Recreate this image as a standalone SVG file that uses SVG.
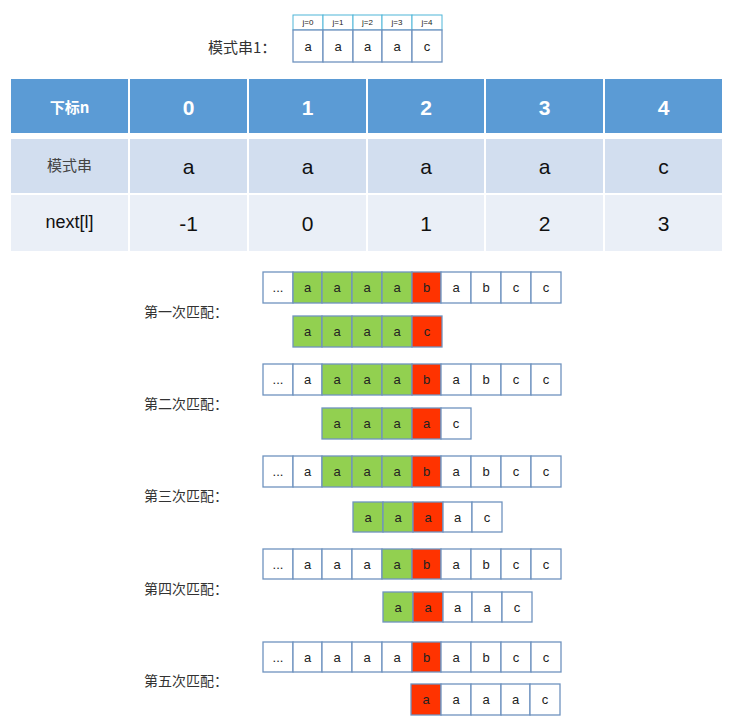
<svg xmlns="http://www.w3.org/2000/svg" width="732" height="725" viewBox="0 0 732 725">
<style>
text{font-family:"Liberation Sans","Noto Sans CJK SC",sans-serif;text-anchor:middle;dominant-baseline:central;fill:#222}
.cn{font-family:"Noto Sans CJK SC","Liberation Sans",sans-serif;fill:#333;font-size:14px;text-anchor:start}
.c{stroke:#6f93bf;stroke-width:1.3;fill:#fff}
.g{fill:#92d050}
.r{fill:#ff3300}
.t{font-size:13px}
.jh{stroke:#4fb5d8;stroke-width:1;fill:#fff}
.hd{fill:#5b9bd5}
.r2{fill:#d2deef}
.r3{fill:#eaeff7}
.ht{fill:#fff;font-weight:bold;font-size:21px}
.bt{font-size:21px;fill:#111}
</style>
<rect width="732" height="725" fill="#fff"/>

<g id="pattern1">
<text class="cn" x="208" y="46" style="font-size:15px">模式串1：</text>
<g>
<rect class="jh" x="293" y="15" width="30" height="15"/><rect class="jh" x="323" y="15" width="30" height="15"/><rect class="jh" x="353" y="15" width="29" height="15"/><rect class="jh" x="382" y="15" width="30" height="15"/><rect class="jh" x="412" y="15" width="30" height="15"/>
<text x="308" y="22.5" style="font-size:8px">j=0</text><text x="338" y="22.5" style="font-size:8px">j=1</text><text x="367.5" y="22.5" style="font-size:8px">j=2</text><text x="397" y="22.5" style="font-size:8px">j=3</text><text x="427" y="22.5" style="font-size:8px">j=4</text>
</g>
<g>
<rect class="c" x="293" y="30" width="30" height="32"/><rect class="c" x="323" y="30" width="30" height="32"/><rect class="c" x="353" y="30" width="29" height="32"/><rect class="c" x="382" y="30" width="30" height="32"/><rect class="c" x="412" y="30" width="30" height="32"/>
<text class="t" x="308" y="46">a</text><text class="t" x="338" y="46">a</text><text class="t" x="367.5" y="46">a</text><text class="t" x="397" y="46">a</text><text class="t" x="427" y="46">c</text>
</g>
</g>

<g id="table">
<rect class="hd" x="11" y="79" width="117" height="54"/><rect class="hd" x="130" y="79" width="117" height="54"/><rect class="hd" x="249" y="79" width="117" height="54"/><rect class="hd" x="368" y="79" width="116" height="54"/><rect class="hd" x="486" y="79" width="117" height="54"/><rect class="hd" x="605" y="79" width="117" height="54"/>
<text class="ht" x="69.5" y="106" style="font-size:15px;font-family:'Noto Sans CJK SC',sans-serif">下标n</text>
<text class="ht" x="188.5" y="107">0</text><text class="ht" x="307.5" y="107">1</text><text class="ht" x="426" y="107">2</text><text class="ht" x="544.5" y="107">3</text><text class="ht" x="663.5" y="107">4</text>

<rect class="r2" x="11" y="139" width="117" height="54"/><rect class="r2" x="130" y="139" width="117" height="54"/><rect class="r2" x="249" y="139" width="117" height="54"/><rect class="r2" x="368" y="139" width="116" height="54"/><rect class="r2" x="486" y="139" width="117" height="54"/><rect class="r2" x="605" y="139" width="117" height="54"/>
<text x="69.5" y="164" style="font-size:15px;fill:#444;font-family:'Noto Sans CJK SC',sans-serif">模式串</text>
<text class="bt" x="188.5" y="166">a</text><text class="bt" x="307.5" y="166">a</text><text class="bt" x="426" y="166">a</text><text class="bt" x="544.5" y="166">a</text><text class="bt" x="663.5" y="166">c</text>

<rect class="r3" x="11" y="195" width="117" height="56"/><rect class="r3" x="130" y="195" width="117" height="56"/><rect class="r3" x="249" y="195" width="117" height="56"/><rect class="r3" x="368" y="195" width="116" height="56"/><rect class="r3" x="486" y="195" width="117" height="56"/><rect class="r3" x="605" y="195" width="117" height="56"/>
<text x="69.5" y="222" style="font-size:18px;fill:#111">next[l]</text>
<text class="bt" x="188.5" y="223">-1</text><text class="bt" x="307.5" y="223">0</text><text class="bt" x="426" y="223">1</text><text class="bt" x="544.5" y="223">2</text><text class="bt" x="663.5" y="223">3</text>
</g>

<g id="match1">
<text class="cn" x="144" y="311">第一次匹配：</text>
<g>
<rect class="c" x="263" y="272" width="30" height="31"/><rect class="c g" x="293" y="272" width="29" height="31"/><rect class="c g" x="322" y="272" width="30" height="31"/><rect class="c g" x="352" y="272" width="30" height="31"/><rect class="c g" x="382" y="272" width="30" height="31"/><rect class="c r" x="412" y="272" width="29" height="31"/><rect class="c" x="441" y="272" width="30" height="31"/><rect class="c" x="471" y="272" width="30" height="31"/><rect class="c" x="501" y="272" width="30" height="31"/><rect class="c" x="531" y="272" width="30" height="31"/>
<text class="t" x="278" y="287">...</text><text class="t" x="307.5" y="287">a</text><text class="t" x="337" y="287">a</text><text class="t" x="367" y="287">a</text><text class="t" x="397" y="287">a</text><text class="t" x="426.5" y="287">b</text><text class="t" x="456" y="287">a</text><text class="t" x="486" y="287">b</text><text class="t" x="516" y="287">c</text><text class="t" x="546" y="287">c</text>
</g>
<g>
<rect class="c g" x="293" y="316" width="29" height="31"/><rect class="c g" x="322" y="316" width="30" height="31"/><rect class="c g" x="352" y="316" width="30" height="31"/><rect class="c g" x="382" y="316" width="30" height="31"/><rect class="c r" x="412" y="316" width="30" height="31"/>
<text class="t" x="307.5" y="331">a</text><text class="t" x="337" y="331">a</text><text class="t" x="367" y="331">a</text><text class="t" x="397" y="331">a</text><text class="t" x="427" y="331">c</text>
</g>
</g>

<g id="match2">
<text class="cn" x="144" y="403">第二次匹配：</text>
<g>
<rect class="c" x="263" y="364" width="30" height="31"/><rect class="c" x="293" y="364" width="29" height="31"/><rect class="c g" x="322" y="364" width="30" height="31"/><rect class="c g" x="352" y="364" width="30" height="31"/><rect class="c g" x="382" y="364" width="30" height="31"/><rect class="c r" x="412" y="364" width="29" height="31"/><rect class="c" x="441" y="364" width="30" height="31"/><rect class="c" x="471" y="364" width="30" height="31"/><rect class="c" x="501" y="364" width="30" height="31"/><rect class="c" x="531" y="364" width="30" height="31"/>
<text class="t" x="278" y="379">...</text><text class="t" x="307.5" y="379">a</text><text class="t" x="337" y="379">a</text><text class="t" x="367" y="379">a</text><text class="t" x="397" y="379">a</text><text class="t" x="426.5" y="379">b</text><text class="t" x="456" y="379">a</text><text class="t" x="486" y="379">b</text><text class="t" x="516" y="379">c</text><text class="t" x="546" y="379">c</text>
</g>
<g>
<rect class="c g" x="322" y="408" width="30" height="31"/><rect class="c g" x="352" y="408" width="30" height="31"/><rect class="c g" x="382" y="408" width="30" height="31"/><rect class="c r" x="412" y="408" width="29" height="31"/><rect class="c" x="441" y="408" width="30" height="31"/>
<text class="t" x="337" y="423">a</text><text class="t" x="367" y="423">a</text><text class="t" x="397" y="423">a</text><text class="t" x="426.5" y="423">a</text><text class="t" x="456" y="423">c</text>
</g>
</g>

<g id="match3">
<text class="cn" x="144" y="495">第三次匹配：</text>
<g>
<rect class="c" x="263" y="456" width="30" height="31"/><rect class="c" x="293" y="456" width="29" height="31"/><rect class="c g" x="322" y="456" width="30" height="31"/><rect class="c g" x="352" y="456" width="30" height="31"/><rect class="c g" x="382" y="456" width="30" height="31"/><rect class="c r" x="412" y="456" width="29" height="31"/><rect class="c" x="441" y="456" width="30" height="31"/><rect class="c" x="471" y="456" width="30" height="31"/><rect class="c" x="501" y="456" width="30" height="31"/><rect class="c" x="531" y="456" width="30" height="31"/>
<text class="t" x="278" y="471">...</text><text class="t" x="307.5" y="471">a</text><text class="t" x="337" y="471">a</text><text class="t" x="367" y="471">a</text><text class="t" x="397" y="471">a</text><text class="t" x="426.5" y="471">b</text><text class="t" x="456" y="471">a</text><text class="t" x="486" y="471">b</text><text class="t" x="516" y="471">c</text><text class="t" x="546" y="471">c</text>
</g>
<g>
<rect class="c g" x="353" y="502" width="30" height="30"/><rect class="c g" x="383" y="502" width="30" height="30"/><rect class="c r" x="413" y="502" width="30" height="30"/><rect class="c" x="443" y="502" width="29" height="30"/><rect class="c" x="472" y="502" width="30" height="30"/>
<text class="t" x="368" y="517">a</text><text class="t" x="398" y="517">a</text><text class="t" x="428" y="517">a</text><text class="t" x="457.5" y="517">a</text><text class="t" x="487" y="517">c</text>
</g>
</g>

<g id="match4">
<text class="cn" x="144" y="588">第四次匹配：</text>
<g>
<rect class="c" x="263" y="549" width="30" height="30"/><rect class="c" x="293" y="549" width="29" height="30"/><rect class="c" x="322" y="549" width="30" height="30"/><rect class="c" x="352" y="549" width="30" height="30"/><rect class="c g" x="382" y="549" width="30" height="30"/><rect class="c r" x="412" y="549" width="29" height="30"/><rect class="c" x="441" y="549" width="30" height="30"/><rect class="c" x="471" y="549" width="30" height="30"/><rect class="c" x="501" y="549" width="30" height="30"/><rect class="c" x="531" y="549" width="30" height="30"/>
<text class="t" x="278" y="564">...</text><text class="t" x="307.5" y="564">a</text><text class="t" x="337" y="564">a</text><text class="t" x="367" y="564">a</text><text class="t" x="397" y="564">a</text><text class="t" x="426.5" y="564">b</text><text class="t" x="456" y="564">a</text><text class="t" x="486" y="564">b</text><text class="t" x="516" y="564">c</text><text class="t" x="546" y="564">c</text>
</g>
<g>
<rect class="c g" x="383" y="592" width="30" height="30"/><rect class="c r" x="413" y="592" width="30" height="30"/><rect class="c" x="443" y="592" width="29" height="30"/><rect class="c" x="472" y="592" width="30" height="30"/><rect class="c" x="502" y="592" width="30" height="30"/>
<text class="t" x="398" y="607">a</text><text class="t" x="428" y="607">a</text><text class="t" x="457.5" y="607">a</text><text class="t" x="487" y="607">a</text><text class="t" x="517" y="607">c</text>
</g>
</g>

<g id="match5">
<text class="cn" x="144" y="680">第五次匹配：</text>
<g>
<rect class="c" x="263" y="642" width="30" height="30"/><rect class="c" x="293" y="642" width="29" height="30"/><rect class="c" x="322" y="642" width="30" height="30"/><rect class="c" x="352" y="642" width="30" height="30"/><rect class="c" x="382" y="642" width="30" height="30"/><rect class="c r" x="412" y="642" width="29" height="30"/><rect class="c" x="441" y="642" width="30" height="30"/><rect class="c" x="471" y="642" width="30" height="30"/><rect class="c" x="501" y="642" width="30" height="30"/><rect class="c" x="531" y="642" width="30" height="30"/>
<text class="t" x="278" y="657">...</text><text class="t" x="307.5" y="657">a</text><text class="t" x="337" y="657">a</text><text class="t" x="367" y="657">a</text><text class="t" x="397" y="657">a</text><text class="t" x="426.5" y="657">b</text><text class="t" x="456" y="657">a</text><text class="t" x="486" y="657">b</text><text class="t" x="516" y="657">c</text><text class="t" x="546" y="657">c</text>
</g>
<g>
<rect class="c r" x="411" y="684" width="30" height="31"/><rect class="c" x="441" y="684" width="30" height="31"/><rect class="c" x="471" y="684" width="30" height="31"/><rect class="c" x="501" y="684" width="29" height="31"/><rect class="c" x="530" y="684" width="30" height="31"/>
<text class="t" x="426" y="699.5">a</text><text class="t" x="456" y="699.5">a</text><text class="t" x="486" y="699.5">a</text><text class="t" x="515.5" y="699.5">a</text><text class="t" x="545" y="699.5">c</text>
</g>
</g>
</svg>
